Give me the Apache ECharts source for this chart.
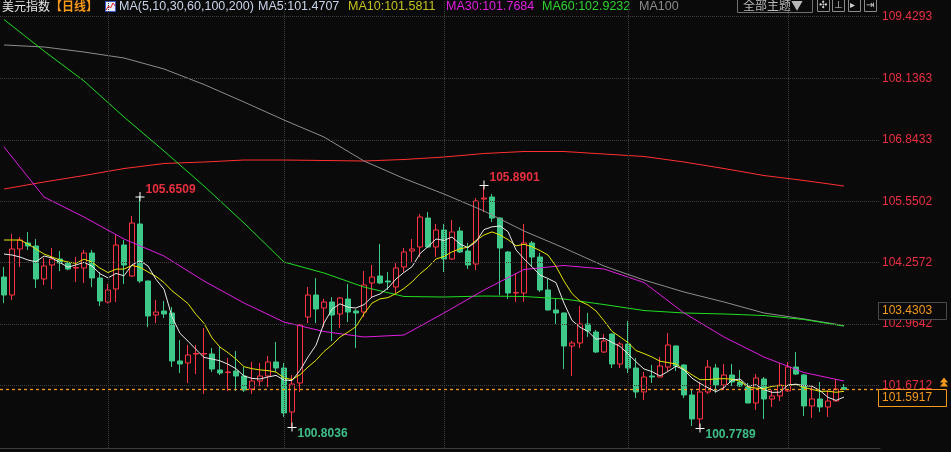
<!DOCTYPE html>
<html><head><meta charset="utf-8">
<script src="https://cdn.jsdelivr.net/npm/echarts@6/dist/echarts.min.js"></script>
<style>html,body{margin:0;padding:0;background:#0a0a0a}#c{width:951px;height:452px}</style>
</head><body><div id="c"></div><script>
// ---------- data ----------
const opens = [
103.956,103.577,104.545,104.671,104.608,103.914,104.208,104.334,104.250,104.145,
104.145,104.460,103.935,103.430,103.704,104.629,103.977,105.070,103.872,103.157,
103.241,103.199,102.190,102.148,102.337,102.337,102.337,102.000,101.947,101.979,
101.874,101.601,101.769,101.874,102.169,102.042,101.118,101.727,103.115,103.577,
103.304,103.430,103.178,103.493,103.241,103.220,103.830,103.977,103.872,103.746,
104.166,104.503,104.587,105.196,104.587,104.944,104.334,104.923,104.503,104.229,
105.596,105.638,105.196,104.482,103.619,103.619,104.671,104.376,103.683,103.262,
103.199,102.505,102.568,102.967,102.799,102.379,102.757,102.127,102.547,102.042,
101.538,101.874,101.853,102.063,102.505,102.106,101.475,100.971,101.538,102.042,
101.685,101.895,101.748,101.643,101.307,101.811,101.391,101.454,101.559,102.063,
101.895,101.244,101.391,101.223,101.349,101.630];
const closes = [
103.577,104.545,104.734,104.608,103.914,104.187,104.334,104.250,104.124,104.155,
104.460,103.935,103.451,103.683,104.629,104.208,105.091,103.872,103.136,103.220,
103.178,102.190,102.127,102.316,102.347,102.347,102.021,101.937,101.958,101.874,
101.580,101.769,101.874,102.169,102.042,101.097,101.706,102.946,103.577,103.283,
103.430,103.157,103.514,103.220,103.199,103.788,103.956,103.830,103.851,104.145,
104.482,104.545,105.218,104.587,104.944,104.334,104.902,104.482,104.208,105.554,
105.617,105.196,104.566,103.619,103.630,104.671,104.376,103.683,103.262,103.199,
102.505,102.568,102.967,102.820,102.379,102.610,102.127,102.547,102.042,101.538,
101.853,101.853,102.085,102.526,102.085,101.475,100.971,101.538,102.063,101.685,
101.895,101.748,101.664,101.307,101.832,101.391,101.454,101.685,102.063,101.916,
101.244,101.391,101.223,101.349,101.601,101.5917];
const lows = [
103.409,103.472,104.166,104.524,103.725,103.788,103.704,104.082,104.100,103.851,
103.830,103.746,103.346,103.400,103.430,103.809,103.956,103.830,102.904,102.988,
103.094,102.063,101.937,101.727,101.916,101.496,101.958,101.895,101.559,101.559,
101.538,101.496,101.664,101.643,101.958,101.013,100.8036,101.538,102.988,102.988,
102.904,102.610,102.883,103.009,102.463,103.115,103.535,103.810,103.683,103.619,
104.061,104.271,104.376,104.570,104.376,104.061,104.313,104.460,104.124,104.103,
105.323,105.112,103.577,103.493,103.430,103.430,104.166,103.640,103.250,102.967,
102.021,101.874,102.463,102.694,102.358,102.358,102.042,102.042,101.937,101.412,
101.370,101.727,101.850,101.979,101.979,101.412,100.824,100.7789,101.496,101.517,
101.580,101.664,101.643,101.300,101.160,100.971,101.223,101.349,101.538,101.895,
101.034,100.992,101.118,101.013,101.340,101.580];
const highs = [
104.166,104.860,104.797,104.902,104.755,104.355,104.566,104.503,104.271,104.376,
104.524,104.524,104.061,103.809,104.839,104.734,105.239,105.6509,103.880,103.472,
103.451,103.325,102.631,102.526,102.526,102.883,102.463,102.505,102.253,102.400,
102.063,102.169,102.148,102.295,102.589,102.148,101.895,102.967,103.746,103.935,
103.493,103.535,103.535,103.809,103.283,104.082,104.208,104.650,104.061,104.250,
104.566,104.755,105.281,105.323,105.070,105.070,105.154,105.007,104.671,105.617,
105.8901,105.701,105.210,104.503,104.040,105.070,104.713,104.460,103.914,103.493,
103.210,102.610,103.346,103.199,102.841,102.757,102.770,102.589,103.030,102.253,
101.958,102.106,102.274,102.778,102.520,102.120,101.580,101.748,102.211,102.127,
102.127,102.127,102.000,101.727,101.916,101.853,101.580,102.148,102.169,102.379,
101.916,101.643,101.748,101.580,101.811,101.706];

// MA5 / MA10 values before a full window is available
const ma5Lead = [104.439,104.418,104.376,104.313];
const ma10Lead = [104.734,104.734,104.734,104.650,104.545,104.439,104.376,104.313,104.271];

// long moving averages, every 5th session
const maSampleDays = [0,5,10,15,20,25,30,35,40,45,50,55,60,65,70,75,80,85,90,95,100,105];
const ma30 = [106.690,105.638,105.217,104.755,104.397,103.872,103.409,103.009,102.809,102.694,102.736,103.199,103.682,104.114,104.198,104.124,103.840,103.199,102.694,102.273,101.947,101.7684];
const ma60 = [109.371,108.708,108.078,107.320,106.605,105.869,105.091,104.271,104.040,103.745,103.546,103.535,103.556,103.546,103.493,103.377,103.251,103.199,103.178,103.146,103.062,102.9232];
const ma100 = [108.835,108.793,108.687,108.561,108.330,108.004,107.636,107.257,106.900,106.395,106.027,105.701,105.344,104.923,104.566,104.187,103.893,103.640,103.430,103.199,103.073,102.936];
const ma200 = [105.806,105.954,106.090,106.237,106.343,106.374,106.416,106.416,106.406,106.395,106.427,106.479,106.553,106.595,106.595,106.542,106.490,106.374,106.237,106.090,105.985,105.869];

const yTicks = [101.6712,102.9642,104.2572,105.5502,106.8433,108.1363,109.4293];
const monthStarts = [13,35,55,78,98];
const lastPrice = 101.5917;
const refPrice = 103.4303;
const extremes = [{i:17,kind:'high'},{i:36,kind:'low'},{i:60,kind:'high'},{i:87,kind:'low'}];
const legendItems = [
  {t:'MA(5,10,30,60,100,200)', x:119, c:'#c9d3e8'},
  {t:'MA5:101.4707', x:258, c:'#c9d3e8'},
  {t:'MA10:101.5811', x:348, c:'#c2c21e'},
  {t:'MA30:101.7684', x:446, c:'#e21fe2'},
  {t:'MA60:102.9232', x:542, c:'#2fd42f'},
  {t:'MA100', x:639, c:'#8a8a8a'}
];
const TOTAL_SLOTS = 110;

// ---------- derived ----------
const categories = Array.from({length: TOTAL_SLOTS}, (_, i) => String(i + 1));
const kData = opens.map((o, i) => [o, closes[i], lows[i], highs[i]]);
function movingAvg(n, lead) {
  return closes.map((c, i) => {
    if (i < n - 1) return lead[i];
    let s = 0; for (let k = i - n + 1; k <= i; k++) s += closes[k];
    return +(s / n).toFixed(4);
  });
}
const ma5 = movingAvg(5, ma5Lead), ma10 = movingAvg(10, ma10Lead);
const sparse = arr => maSampleDays.map((d, k) => [d, arr[k]]);

const chart = echarts.init(document.getElementById('c'), null, {renderer: 'canvas'});
const FONT = '"Liberation Sans", Arial, sans-serif';
const UP = '#ff3344', DOWN = '#3ec98a', BG = '#0a0a0a', ORANGE = '#f59a1c';

function lineSeries(name, data, color) {
  return {name, type: 'line', data, showSymbol: false, symbol: 'none', smooth: false,
    lineStyle: {color, width: 1}, z: 4, silent: true, animation: false};
}

const headerGraphics = [
  {type: 'text', left: 2, top: 0, style: {text: '美元指数', fill: '#e6e6e6', font: '12px "Noto Sans CJK SC"'}},
  {type: 'text', left: 50, top: 0, style: {text: '【日线】', fill: ORANGE, font: 'bold 12px "Noto Sans CJK SC"'}},
  {type: 'rect', shape: {x: 105.5, y: 1.5, width: 10, height: 10}, style: {fill: '#e8eefc', stroke: '#3a56c8', lineWidth: 1}},
  {type: 'polyline', shape: {points: [[106, 10], [108.5, 6], [110.5, 8], [113, 3], [115, 6]]}, style: {stroke: '#e02020', lineWidth: 1, fill: null}},
  ...legendItems.map(l => ({type: 'text', left: l.x, top: 0, style: {text: l.t, fill: l.c, font: '12.5px ' + FONT}})),
  {type: 'rect', shape: {x: 737.5, y: -1.5, width: 75, height: 14}, style: {fill: 'none', stroke: '#707070', lineWidth: 1}},
  {type: 'text', left: 743, top: -1, style: {text: '全部主题▼', fill: '#b8b8b8', font: '12px "Noto Sans CJK SC"'}},
  ...[817, 832, 848, 864].map((x, k) => ({type: 'group', children: [
    {type: 'rect', shape: {x: x + 0.5, y: -0.5, width: 12, height: 12}, style: {fill: 'none', stroke: '#8a8a8a', lineWidth: 1}},
    {type: 'text', x: x + 2, y: 0, style: {text: ['✣', '⊥', '▸', '⇥'][k], fill: '#cfcfcf', font: '10px "DejaVu Sans"'}}
  ]}))
];

const option = {
  backgroundColor: BG,
  animation: false,
  grid: {left: 0, right: 71, top: 0, bottom: 4},
  xAxis: {type: 'category', data: categories, boundaryGap: true,
    axisLine: {show: true, lineStyle: {color: '#3c3c3c'}}, axisTick: {show: false},
    axisLabel: {show: false}, splitLine: {show: false}},
  yAxis: {type: 'value', position: 'right', min: 100.360, max: 109.781, scale: true,
    axisLine: {show: false}, axisTick: {show: false}, splitLine: {show: false},
    axisLabel: {customValues: yTicks, color: '#ec3040', fontSize: 12, fontFamily: FONT, margin: 2,
      formatter: v => v.toFixed(4)}},
  series: [
    {name: 'grid', type: 'line', data: [], silent: true, z: 1,
      markLine: {silent: true, symbol: 'none', label: {show: false},
        lineStyle: {type: 'dotted', color: '#3e3e3e', width: 1},
        data: yTicks.map(v => ({yAxis: v})).concat(monthStarts.map(i => ({xAxis: i})))}},
    {name: 'K', type: 'candlestick', data: kData, barWidth: 6, z: 3,
      itemStyle: {color: BG, color0: DOWN, borderColor: UP, borderColor0: DOWN, borderWidth: 1},
      markPoint: {symbol: 'path://M0,4.5H9V5.5H0Z M4,0H5V9H4Z', symbolSize: [9, 9],
        itemStyle: {color: '#ffffff'}, silent: true,
        data: extremes.map(e => {
          const v = e.kind === 'high' ? highs[e.i] : lows[e.i];
          return {coord: [e.i, v], value: v,
            label: {show: true, position: 'right', distance: 1, offset: [0, e.kind === 'high' ? -7 : 7],
              formatter: v.toFixed(4), color: e.kind === 'high' ? '#e8303e' : '#3fbf88',
              fontSize: 12, fontWeight: 'bold', fontFamily: FONT}};
        })}},
    lineSeries('MA200', sparse(ma200), '#ff3030'),
    lineSeries('MA100', sparse(ma100), '#8c8c8c'),
    lineSeries('MA60', sparse(ma60), '#22dd22'),
    lineSeries('MA30', sparse(ma30), '#e01ee0'),
    lineSeries('MA10', ma10, '#e6e600'),
    lineSeries('MA5', ma5, '#e8e8e8')
  ],
  graphic: headerGraphics
};
chart.setOption(option);

// current-price line and the price boxes on the right axis (positions from the axis scale)
const yLast = Math.round(chart.convertToPixel({yAxisIndex: 0}, lastPrice)) + 0.5;
const yRef = Math.round(chart.convertToPixel({yAxisIndex: 0}, refPrice)) + 0.5;
chart.setOption({graphic: headerGraphics.concat([
  {type: 'line', z: 40, shape: {x1: 0, y1: yLast, x2: 878, y2: yLast}, style: {stroke: ORANGE, lineWidth: 1.3, lineDash: [3, 3]}},
  {type: 'rect', z: 50, shape: {x: 878.5, y: yRef, width: 68, height: 17}, style: {fill: BG, stroke: '#4a4a4a', lineWidth: 1}},
  {type: 'text', z: 51, left: 882, top: yRef + 2, style: {text: refPrice.toFixed(4), fill: ORANGE, font: '12px ' + FONT}},
  {type: 'rect', z: 50, shape: {x: 878.5, y: yLast, width: 68, height: 17}, style: {fill: BG, stroke: ORANGE, lineWidth: 1}},
  {type: 'text', z: 51, left: 882, top: yLast + 2, style: {text: lastPrice.toFixed(4), fill: ORANGE, font: '12px ' + FONT}},
  {type: 'polygon', z: 50, shape: {points: [[940, yLast - 3], [944, yLast - 8], [948, yLast - 3]]}, style: {fill: ORANGE}},
  {type: 'polygon', z: 50, shape: {points: [[940, yLast - 7], [944, yLast - 12], [948, yLast - 7]]}, style: {fill: ORANGE}}
])}, {replaceMerge: ['graphic']});
</script></body></html>
